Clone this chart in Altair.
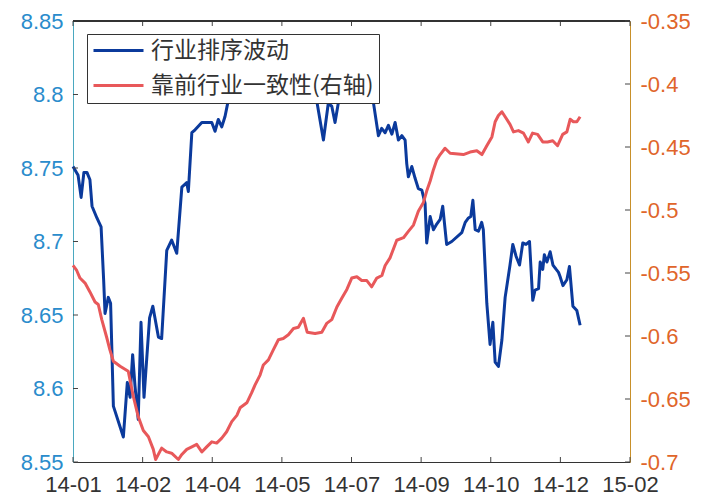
import altair as alt
import pandas as pd

# ---- data -------------------------------------------------------------
x_labels = ["14-01", "14-02", "14-04", "14-05", "14-07", "14-09", "14-10", "14-12", "15-02"]
x_ticks = [0, 30, 60, 90, 120, 150, 180, 210, 240]
left_ticks = [8.55, 8.6, 8.65, 8.7, 8.75, 8.8, 8.85]
right_ticks = [-0.7, -0.65, -0.6, -0.55, -0.5, -0.45, -0.4, -0.35]

series_names = ["行业排序波动", "靠前行业一致性(右轴)"]

blue_t = [0, 2.2, 3.5, 4.7, 6.0, 7.3, 8.2, 10.3, 12.1, 13.2,
          13.8, 15.2, 16.2, 17.4, 21.7, 23.4, 24.6, 25.7, 26.7, 28.1,
          29.3, 30.6, 33.0, 34.4, 36.8, 38.2, 40.4, 42.5, 44.7, 46.9,
          49.0, 49.7, 51.2, 52.6, 55.5, 57.6, 59.8, 61.2, 62.6, 64.1,
          65.5, 66.9, 68.5, 72.0, 76.3, 80.6, 84.9, 89.2, 93.5, 97.8,
          102.1, 105.0, 107.9, 110.0, 111.5, 112.9, 114.3, 117.2, 121.5, 125.8,
          129.4, 131.6, 133.0, 134.5, 135.9, 137.4, 138.8, 140.2, 141.7, 143.1,
          143.8, 144.5, 146.0, 147.4, 148.8, 150.3, 151.7, 152.4, 153.9, 155.3,
          156.8, 158.2, 159.3, 161.0, 163.2, 167.5, 169.0, 170.4, 171.4, 172.3,
          173.3, 174.7, 176.1, 176.8, 178.3, 179.7, 180.9, 181.9, 183.3, 184.8,
          186.2, 188.3, 189.5, 190.9, 192.4, 193.8, 195.2, 196.7, 198.1, 199.1,
          200.6, 201.3, 202.4, 203.1, 204.2, 205.6, 206.8, 208.2, 209.2, 209.9,
          211.1, 212.8, 213.9, 215.4, 217.1, 218.5]
blue_v = [8.751, 8.745, 8.730, 8.747, 8.747, 8.742, 8.724, 8.716, 8.710, 8.674,
          8.651, 8.662, 8.658, 8.588, 8.567, 8.604, 8.594, 8.623, 8.602, 8.579,
          8.645, 8.594, 8.648, 8.656, 8.635, 8.634, 8.694, 8.701, 8.692, 8.737,
          8.740, 8.734, 8.774, 8.776, 8.781, 8.781, 8.781, 8.775, 8.783, 8.778,
          8.785, 8.796, 8.813, 8.817, 8.822, 8.820, 8.825, 8.822, 8.827, 8.823,
          8.817, 8.796, 8.769, 8.794, 8.792, 8.781, 8.794, 8.810, 8.817, 8.810,
          8.795, 8.772, 8.777, 8.774, 8.779, 8.773, 8.781, 8.769, 8.772, 8.769,
          8.753, 8.744, 8.751, 8.743, 8.736, 8.735, 8.726, 8.699, 8.717, 8.708,
          8.712, 8.715, 8.724, 8.698, 8.700, 8.706, 8.713, 8.716, 8.717, 8.728,
          8.708, 8.707, 8.713, 8.708, 8.658, 8.630, 8.645, 8.618, 8.615, 8.633,
          8.662, 8.684, 8.698, 8.690, 8.684, 8.699, 8.698, 8.700, 8.660, 8.667,
          8.668, 8.686, 8.681, 8.691, 8.686, 8.693, 8.684, 8.681, 8.679, 8.676,
          8.670, 8.674, 8.683, 8.656, 8.653, 8.643]

red_t = [0, 1.6, 3.0, 5.2, 7.3, 9.5, 10.9, 12.4, 14.5, 15.9,
         17.4, 20.3, 23.8, 26.0, 28.1, 30.3, 32.5, 34.6, 35.6, 38.2,
         40.4, 42.5, 45.4, 46.9, 49.0, 51.2, 53.3, 55.5, 57.6, 59.8,
         61.9, 64.1, 66.2, 68.4, 70.6, 72.0, 74.9, 77.0, 78.4, 80.6,
         82.0, 84.2, 86.3, 88.5, 90.6, 92.8, 95.0, 97.1, 99.3, 100.9,
         104.3, 107.2, 109.3, 111.5, 113.7, 115.8, 118.0, 120.1, 122.3, 124.4,
         126.6, 128.7, 130.9, 133.1, 134.5, 136.6, 139.5, 142.4, 144.5, 146.7,
         148.8, 151.0, 152.4, 153.9, 155.3, 156.8, 158.2, 160.3, 162.5, 168.2,
         171.1, 174.0, 176.2, 178.3, 180.5, 181.9, 183.3, 184.8, 186.2, 188.3,
         189.8, 191.9, 194.1, 196.2, 198.0, 200.2, 202.4, 204.5, 206.7, 208.8,
         211.0, 212.8, 214.2, 215.6, 217.1, 218.5]
red_v = [-0.544, -0.548, -0.554, -0.558, -0.565, -0.573, -0.575, -0.587, -0.601, -0.611,
         -0.620, -0.624, -0.628, -0.648, -0.664, -0.675, -0.680, -0.690, -0.698, -0.689,
         -0.692, -0.693, -0.698, -0.694, -0.690, -0.688, -0.686, -0.692, -0.688, -0.684,
         -0.685, -0.681, -0.676, -0.668, -0.663, -0.657, -0.653, -0.645, -0.639, -0.631,
         -0.623, -0.619, -0.611, -0.603, -0.602, -0.599, -0.594, -0.593, -0.586, -0.597,
         -0.598, -0.597, -0.590, -0.587, -0.577, -0.570, -0.563, -0.554, -0.553, -0.556,
         -0.556, -0.561, -0.554, -0.552, -0.544, -0.538, -0.524, -0.522, -0.517, -0.512,
         -0.501, -0.494, -0.485, -0.477, -0.468, -0.460, -0.456, -0.451, -0.455, -0.456,
         -0.454, -0.453, -0.456, -0.449, -0.442, -0.430, -0.425, -0.422, -0.426, -0.432,
         -0.438, -0.437, -0.439, -0.446, -0.439, -0.440, -0.446, -0.446, -0.445, -0.449,
         -0.440, -0.438, -0.428, -0.430, -0.430, -0.426]

# ---- styling ----------------------------------------------------------
W, H = 557, 441
BLUE = "#0b3a9c"
RED = "#e8585a"
LEFT_LABEL = "#2a8ccc"
LEFT_DOMAIN = "#4aa8c0"
RIGHT_LABEL = "#e0652a"
RIGHT_DOMAIN = "#c8902a"
TICK = "#444444"
FONT = "Liberation Sans"

blue_df = pd.DataFrame({"t": blue_t, "v": blue_v, "series": series_names[0]})
red_df = pd.DataFrame({"t": red_t, "v": red_v, "series": series_names[1]})
xt_df = pd.DataFrame({"t": x_ticks})
lt_df = pd.DataFrame({"v": left_ticks})
rt_df = pd.DataFrame({"v": right_ticks})

label_arr = "[" + ",".join("'%s'" % s for s in x_labels) + "]"
x_scale = alt.Scale(domain=[0, 240], nice=False, zero=False)
x_axis = alt.Axis(values=x_ticks, labelExpr=label_arr + "[round(datum.value/30)]",
                  labelFlush=False, ticks=False, grid=False, title=None,
                  domainColor="#333333", labelColor="#333333", labelFont=FONT,
                  labelFontSize=22, labelPadding=12)
yl_scale = alt.Scale(domain=[8.55, 8.85], nice=False, zero=False)
yr_scale = alt.Scale(domain=[-0.7, -0.35], nice=False, zero=False)

color = alt.Color("series:N",
                  scale=alt.Scale(domain=series_names, range=[BLUE, RED]),
                  legend=alt.Legend(orient="none", legendX=14, legendY=13, zindex=2,
                                    title=None, symbolType="M-1,0H4", symbolSize=400,
                                    symbolStrokeWidth=3, labelFont="Noto Sans CJK SC",
                                    labelFontSize=23, labelColor="#333333",
                                    fillColor="white", strokeColor="#333333",
                                    padding=5, rowPadding=11, labelOffset=36,
                                    labelLimit=500))

blue_line = alt.Chart(blue_df).mark_line(strokeWidth=3, strokeJoin="round").encode(
    x=alt.X("t:Q", scale=x_scale, axis=x_axis),
    y=alt.Y("v:Q", scale=yl_scale,
            axis=alt.Axis(orient="left", values=left_ticks, labelExpr="'' + datum.value",
                          ticks=False, grid=False, title=None, domainColor=LEFT_DOMAIN,
                          labelColor=LEFT_LABEL, labelFont=FONT, labelFontSize=22,
                          labelPadding=10)),
    color=color,
)

bottom_ticks = alt.Chart(xt_df).mark_rule(color=TICK, strokeWidth=1).encode(
    x=alt.X("t:Q", scale=x_scale), y=alt.value(H), y2=alt.value(H - 5))
top_ticks = alt.Chart(xt_df).mark_rule(color=TICK, strokeWidth=1).encode(
    x=alt.X("t:Q", scale=x_scale), y=alt.value(0), y2=alt.value(5))
top_border = alt.Chart(xt_df).mark_rule(color="#333333", strokeWidth=1).encode(
    x=alt.value(0), x2=alt.value(W), y=alt.value(0))
left_tick_marks = alt.Chart(lt_df).mark_rule(color=TICK, strokeWidth=1).encode(
    y=alt.Y("v:Q", scale=yl_scale), x=alt.value(0), x2=alt.value(5))

left_group = alt.layer(blue_line, left_tick_marks, bottom_ticks, top_ticks, top_border)

red_line = alt.Chart(red_df).mark_line(strokeWidth=3, strokeJoin="round").encode(
    x=alt.X("t:Q", scale=x_scale),
    y=alt.Y("v:Q", scale=yr_scale,
            axis=alt.Axis(orient="right", values=right_ticks, labelExpr="'' + datum.value",
                          ticks=False, grid=False, title=None, domainColor=RIGHT_DOMAIN,
                          labelColor=RIGHT_LABEL, labelFont=FONT, labelFontSize=22,
                          labelPadding=10)),
    color=color,
)
right_tick_marks = alt.Chart(rt_df).mark_rule(color=TICK, strokeWidth=1).encode(
    y=alt.Y("v:Q", scale=yr_scale), x=alt.value(W), x2=alt.value(W - 5))

right_group = alt.layer(red_line, right_tick_marks)

chart = alt.layer(left_group, right_group).resolve_scale(y="independent").properties(
    width=W, height=H,
    autosize=alt.AutoSizeParams(type="none"),
    padding={"left": 65, "top": 13, "right": 60, "bottom": 34},
    background="white",
).configure_view(stroke=None)

chart.save("out.html", embed_options={"renderer": "svg", "actions": False})
